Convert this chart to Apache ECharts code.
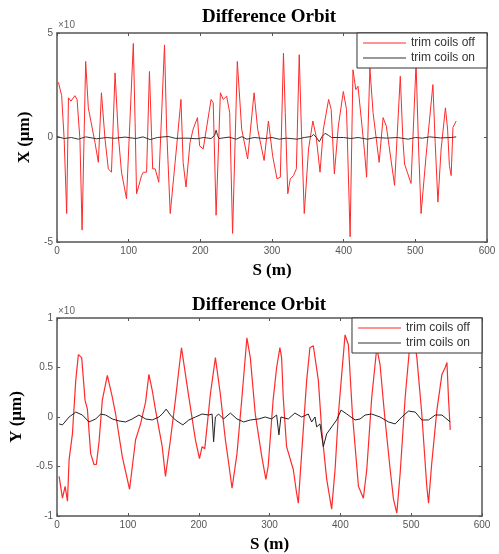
<!DOCTYPE html>
<html>
<head>
<meta charset="utf-8">
<script src="https://cdn.jsdelivr.net/npm/echarts@6/dist/echarts.min.js"></script>
<style>html,body{margin:0;padding:0;background:#fff}#c{width:499px;height:554px}</style>
</head>
<body>
<div id="c"></div>
<script>
// ---- Data ----
const xTicks = [0, 100, 200, 300, 400, 500, 600];
const topYTicks = [-5, 0, 5];
const botYTicks = [-1, -0.5, 0, 0.5, 1];

// Top panel: X, trim coils off
const topOffS = [2,6.5,10,13.5,16,19.5,25,28,32,35,40,43.7,53,57.7,62,67,71.6,76,81,85.6,90,97,106.5,109,111,118,120.5,125,129,133.5,137,142,150,153,158,167,173,176,180,185.6,190,196,199,204,215,218,222,228,232,236.7,241,245,251.6,257.7,266,275,280,289,295,301,307,311.6,316,318.5,322,325.5,330,334,338,341,345,351,357,361.5,367,371.7,379,382.6,387,392.6,399.5,404,409,413,417,420,429,432,436.6,441,449.5,455,459.5,471,479,482.6,485,494,501,504.6,508,515,524.5,527.7,531.5,536,542,545,547.5,550,552.5,557];
const topOffX = [2.64,2.0,-0.08,-3.64,1.9,1.74,2.0,1.82,-0.08,-4.43,3.64,1.42,-0.24,-1.19,2.14,-0.08,-1.5,-1.66,3.09,0.08,-1.66,-2.93,4.5,0.71,-2.69,-1.82,-1.66,-1.66,3.16,-1.5,-1.5,-2.14,4.43,0.4,-3.64,-0.4,1.82,-1.19,-2.37,-0.24,0.4,0.95,-0.4,-0.55,1.82,1.66,-3.72,2.14,1.82,1.98,1.19,-4.59,3.64,0.4,-1.03,2.14,0.4,-1.1,0.79,-0.9,-1.98,-1.9,4.03,1.19,-2.69,-1.98,-1.82,-1.5,3.96,0.4,-3.64,-0.55,0.79,0.08,-1.66,0.4,1.82,1.34,-1.74,0.55,2.2,1.34,-4.75,3.24,2.29,2.45,-0.63,-1.9,3.32,1.19,-1.19,0.95,0.55,-2.29,2.93,-0.08,-1.27,-2.2,3.56,-0.55,-3.64,-0.87,2.53,-0.24,-3.09,-0.55,1.42,0.4,-1.34,-1.82,0.48,0.79];
// Top panel: X, trim coils on
const topOnS = [0,10,20,30,40,55,70,80,95,110,120,130,140,155,165,180,195,205,215,220,222,224,226,240,250,258,265,275,290,300,310,320,335,345,355,358,362,366,370,374,379,383,400,410,420,433,445,460,475,490,500,510,520,535,550,557];
const topOnX = [0.05,-0.05,0.0,-0.08,0.03,-0.06,0.0,-0.04,0.02,-0.05,0.03,-0.1,0.0,0.05,-0.04,-0.03,-0.06,0.0,-0.05,0.1,0.35,0.1,-0.05,0.02,-0.08,0.04,-0.08,0.0,-0.05,0.0,-0.08,-0.03,-0.08,0.0,0.05,0.15,0.0,-0.2,0.05,0.2,0.1,0.0,0.0,-0.05,0.0,-0.08,0.0,-0.03,0.0,-0.08,0.0,-0.03,0.03,-0.02,0.0,0.03];

// Bottom panel: Y, trim coils off
const botOffS = [2.8,7.5,11.3,14.6,16.9,21.6,26.3,30,34.7,39.4,42.7,47.4,52.1,55.4,59.2,63.8,70.9,77.9,82.6,92,102.3,110.8,117.8,124.9,129.6,134.3,139,148.4,153,160,167,171.8,175.6,181.2,186,195.3,201,204.7,208.5,216.4,223.5,230.5,237.6,242.3,247,254,261,268,272.8,279.8,289,294.8,298,305,310,314.6,317,319.3,324,333.5,338.2,340.6,345.3,352.4,357,361.8,364,368.9,373.6,380.7,387.7,392.5,397.2,406.6,411.3,417,425.5,432.5,437.3,444.3,451.4,456,462.3,470.3,475,479.7,484.4,491.5,498.6,503,508,515,522,524.5,529,536.3,543.4,548,550.5,552.8,555.2];
const botOffY = [-0.6,-0.82,-0.7,-0.85,-0.43,-0.17,0.37,0.63,0.6,0.17,0.08,-0.37,-0.48,-0.48,-0.25,0.17,0.42,0.2,0.03,-0.4,-0.73,-0.23,-0.07,0.15,0.43,0.27,0.07,-0.3,-0.6,-0.23,0.17,0.47,0.7,0.43,0.2,-0.23,-0.42,-0.3,-0.32,0.23,0.6,0.23,-0.23,-0.47,-0.72,-0.37,0.2,0.8,0.6,0.03,-0.4,-0.63,-0.5,0.17,0.5,0.7,0.6,0.2,-0.3,-0.53,-0.77,-0.87,-0.37,0.37,0.7,0.72,0.73,0.37,-0.13,-0.63,-0.93,-0.53,0.03,0.83,0.73,0.03,-0.7,-0.82,-0.53,0.2,0.7,0.53,0.03,-0.53,-0.83,-0.97,-0.57,0.2,0.77,0.87,0.6,0.03,-0.7,-0.87,-0.47,0.07,0.43,0.5,0.55,0.17,-0.13];
// Bottom panel: Y, trim coils on
const botOnS = [2.8,7.5,16.9,26.3,35.7,45,54.5,61.5,68.5,78,87.3,96.7,106,115.5,125,134.3,143.7,148.4,154,160,167,177.5,186,195.3,204.7,214,218.8,221,223.5,228,235,244.6,254,263.4,272.8,284.5,293.9,302.8,310,313.2,316,326.4,335.8,345.3,354.7,359.4,364.2,366.5,371.2,375.9,380.7,387.7,394.8,401,409,420.8,427.8,434.9,444.3,456,467.9,477.4,486.8,496.2,505.7,515,524.5,534,543.4,555.2];
const botOnY = [-0.07,-0.08,0,0.05,0.02,-0.05,-0.02,0.03,0.02,-0.02,-0.04,-0.05,-0.02,0.02,-0.02,-0.03,0,0.03,0.08,0.02,-0.03,-0.08,-0.03,0,0.03,0.02,0.03,-0.25,0,0.03,-0.02,0.04,-0.02,-0.05,-0.03,-0.02,0,-0.02,0.02,-0.18,0,-0.02,0.04,0,0.03,-0.05,0,-0.1,-0.07,-0.3,-0.17,-0.1,-0.03,0.07,0.03,-0.03,-0.02,0.02,0.03,0,-0.05,-0.07,0,0.06,0.05,-0.03,-0.03,0.02,0.02,-0.05];

const titleText = 'Difference Orbit';
const legendNames = ['trim coils off', 'trim coils on'];

// ---- Build chart ----
const zip = (a, b) => a.map((v, i) => [v, b[i]]);
const serif = 'Liberation Serif';
const labelStyle = { fontFamily: 'Liberation Sans', fontSize: 10, color: '#555' };
const frame = '#555';
const nameStyle = { fontFamily: serif, fontWeight: 'bold', fontSize: 17, color: '#000' };

function xAxisMain(gi, name) {
  return {
    gridIndex: gi, type: 'value', min: 0, max: 600, interval: 100,
    name: name, nameLocation: 'middle', nameGap: 20, nameTextStyle: nameStyle,
    axisLine: { onZero: false, lineStyle: { color: frame, width: 1.5 } },
    axisTick: { inside: true, length: 3, lineStyle: { color: frame } },
    axisLabel: Object.assign({ margin: 4 }, labelStyle),
    splitLine: { show: false }
  };
}
function xAxisTop(gi) {
  return {
    gridIndex: gi, type: 'value', min: 0, max: 600, interval: 100, position: 'top',
    axisLine: { onZero: false, lineStyle: { color: frame, width: 1.5 } },
    axisTick: { inside: true, length: 3, lineStyle: { color: frame } },
    axisLabel: { show: false }, splitLine: { show: false }
  };
}
function yAxisMain(gi, min, max, step, name) {
  return {
    gridIndex: gi, type: 'value', min: min, max: max, interval: step,
    name: name, nameLocation: 'middle', nameGap: 24, nameTextStyle: nameStyle,
    axisLine: { show: true, onZero: false, lineStyle: { color: frame, width: 1.5 } },
    axisTick: { show: true, inside: true, length: 3, lineStyle: { color: frame } },
    axisLabel: Object.assign({ margin: 4 }, labelStyle),
    splitLine: { show: false }
  };
}
function yAxisRight(gi, min, max, step) {
  return {
    gridIndex: gi, type: 'value', min: min, max: max, interval: step, position: 'right',
    axisLine: { show: true, onZero: false, lineStyle: { color: frame, width: 1.5 } },
    axisTick: { show: true, inside: true, length: 3, lineStyle: { color: frame } },
    axisLabel: { show: false }, splitLine: { show: false }
  };
}
function legendAt(right, top) {
  return {
    data: legendNames, orient: 'vertical', right: right, top: top,
    icon: 'rect', itemWidth: 43, itemHeight: 1.2, itemGap: 3,
    padding: [4, 12, 4, 6], backgroundColor: '#fff', borderColor: '#333', borderWidth: 1,
    textStyle: { fontFamily: 'Liberation Sans', fontSize: 12, color: '#333' }
  };
}

const chart = echarts.init(document.getElementById('c'), null, { renderer: 'canvas' });
chart.setOption({
  backgroundColor: '#fff',
  animation: false,
  title: [
    { text: titleText, left: 197, top: 3, textStyle: { fontFamily: serif, fontWeight: 'bold', fontSize: 19, color: '#000' } },
    { text: titleText, left: 187, top: 291, textStyle: { fontFamily: serif, fontWeight: 'bold', fontSize: 19, color: '#000' } }
  ],
  grid: [
    { left: 57, top: 33, width: 430, height: 209 },
    { left: 57, top: 318, width: 425, height: 201 }
  ],
  xAxis: [xAxisMain(0, 'S (m)'), xAxisMain(1, 'S (m)'), xAxisTop(0), xAxisTop(1)],
  yAxis: [
    yAxisMain(0, -5, 5, 5, 'X (μm)'), yAxisMain(1, -1, 1, 0.5, 'Y (μm)'),
    yAxisRight(0, -5, 5, 5), yAxisRight(1, -1, 1, 0.5)
  ],
  legend: [legendAt(12, 33), legendAt(17, 318)],
  graphic: [
    { type: 'text', left: 58, top: 20, style: { text: '×10', font: '10px Liberation Sans', fill: '#666' } },
    { type: 'text', left: 58, top: 306, style: { text: '×10', font: '10px Liberation Sans', fill: '#666' } }
  ],
  series: [
    { name: legendNames[0], type: 'line', xAxisIndex: 0, yAxisIndex: 0, symbol: 'none', data: zip(topOffS, topOffX), lineStyle: { color: '#ff2a2a', width: 1 }, itemStyle: { color: '#ff2a2a' } },
    { name: legendNames[1], type: 'line', xAxisIndex: 0, yAxisIndex: 0, symbol: 'none', data: zip(topOnS, topOnX), lineStyle: { color: '#333', width: 1 }, itemStyle: { color: '#333' } },
    { name: legendNames[0], type: 'line', xAxisIndex: 1, yAxisIndex: 1, symbol: 'none', data: zip(botOffS, botOffY), lineStyle: { color: '#ff2a2a', width: 1.2 }, itemStyle: { color: '#ff2a2a' } },
    { name: legendNames[1], type: 'line', xAxisIndex: 1, yAxisIndex: 1, symbol: 'none', data: zip(botOnS, botOnY), lineStyle: { color: '#222', width: 1 }, itemStyle: { color: '#222' } }
  ]
});
</script>
</body>
</html>
